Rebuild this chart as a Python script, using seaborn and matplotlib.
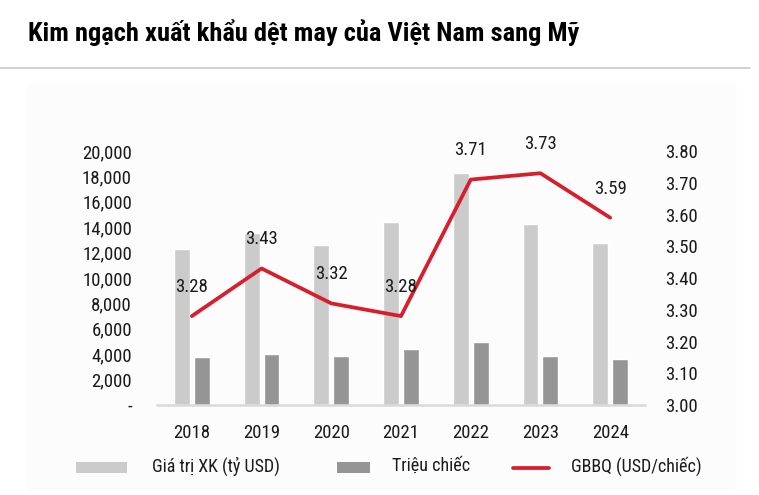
import numpy as np
import pandas as pd
import matplotlib
matplotlib.use("Agg")
import matplotlib.pyplot as plt
from matplotlib.patches import Rectangle, FancyBboxPatch
from matplotlib.lines import Line2D
import seaborn as sns

# ---- data ----
years = ["2018", "2019", "2020", "2021", "2022", "2023", "2024"]
gia_tri_xk = [12280, 13570, 12600, 14400, 18290, 14230, 12730]
trieu_chiec = [3750, 3990, 3830, 4410, 4980, 3860, 3600]
gbbq = [3.28, 3.43, 3.32, 3.28, 3.71, 3.73, 3.59]
gbbq_labels = ["3.28", "3.43", "3.32", "3.28", "3.71", "3.73", "3.59"]
series_names = ["Giá trị XK (tỷ USD)", "Triệu chiếc", "GBBQ (USD/chiếc)"]
left_ticks = [0, 2000, 4000, 6000, 8000, 10000, 12000, 14000, 16000, 18000, 20000]
right_ticks = [3.00, 3.10, 3.20, 3.30, 3.40, 3.50, 3.60, 3.70, 3.80]
title = "Kim ngạch xuất khẩu dệt may của Việt Nam sang Mỹ"

LIGHT = "#cbcbcb"
DARK = "#959595"
RED = "#d81e2c"
TXT = "#1a1a1a"

sns.set_theme(style="white")
FAM = ["Roboto Condensed", "DejaVu Sans"]
plt.rcParams["font.family"] = FAM

W, H = 759, 495
fig = plt.figure(figsize=(W / 100, H / 100), dpi=100)
fig.patch.set_facecolor("white")

# faint panel behind chart
fig.patches.append(FancyBboxPatch((27 / W, 1 - 490 / H), (737 - 27) / W, (490 - 83) / H,
                                  boxstyle="round,pad=0,rounding_size=0.01",
                                  transform=fig.transFigure, facecolor="#fcfcfc",
                                  edgecolor="none", zorder=-10))
# title and separator
fig.text(28 / W, 1 - 33 / H, title, fontsize=19, fontweight="bold", color="black",
         ha="left", va="center", family=FAM)
fig.lines.append(Line2D([0, 750 / W], [1 - 68 / H, 1 - 68 / H], transform=fig.transFigure,
                        color="#c8c8c8", lw=1.2))

ax = fig.add_axes([157 / W, 1 - 405 / H, (645 - 157) / W, (405 - 151) / H])
ax.set_facecolor("none")

df = pd.DataFrame({
    "year": years * 2,
    "value": gia_tri_xk + trieu_chiec,
    "series": [series_names[0]] * len(years) + [series_names[1]] * len(years),
})
sns.barplot(data=df, x="year", y="value", hue="series", order=years,
            hue_order=series_names[:2], palette=[LIGHT, DARK],
            width=0.57, gap=0.2, saturation=1, ax=ax, legend=False)

ax.set_xlim(-0.5, len(years) - 0.5)
ax.set_ylim(0, 20000)
ax.set_yticks(left_ticks)
ax.set_yticklabels(["-"] + [f"{v:,}" for v in left_ticks[1:]])
ax.set_xlabel("")
ax.set_ylabel("")
for s in ["top", "right", "left"]:
    ax.spines[s].set_visible(False)
ax.spines["bottom"].set_color("#d9d9d9")
ax.spines["bottom"].set_linewidth(1.8)
ax.tick_params(axis="y", length=0, pad=18, labelsize=13.5, labelcolor=TXT)
ax.tick_params(axis="x", length=0, pad=14, labelsize=13.5, labelcolor=TXT)
ax.grid(False)

ax2 = ax.twinx()
sns.lineplot(x=np.arange(len(years)), y=gbbq, color=RED, linewidth=2.7, ax=ax2)
ax2.set_ylim(3.0, 3.8)
ax2.set_yticks(right_ticks)
ax2.set_yticklabels([f"{v:.2f}" for v in right_ticks])
for s in ["top", "right", "left", "bottom"]:
    ax2.spines[s].set_visible(False)
ax2.tick_params(axis="y", length=0, pad=14.4, labelsize=13.5, labelcolor=TXT)
ax2.grid(False)
for i, (v, lab) in enumerate(zip(gbbq, gbbq_labels)):
    ax2.annotate(lab, (i, v), xytext=(0, 21), textcoords="offset points",
                 ha="center", va="center", fontsize=13.5, color=TXT)

# legend (manual, in figure coordinates)
fs = 13
fig.patches.append(Rectangle((76 / W, 1 - 473 / H), 51 / W, 11 / H, transform=fig.transFigure,
                             facecolor=LIGHT, edgecolor="none"))
fig.text(152 / W, 1 - 466 / H, series_names[0], fontsize=fs, color=TXT, ha="left", va="center")
fig.patches.append(Rectangle((337 / W, 1 - 473 / H), 33 / W, 11 / H, transform=fig.transFigure,
                             facecolor=DARK, edgecolor="none"))
fig.text(392 / W, 1 - 466 / H, series_names[1], fontsize=fs, color=TXT, ha="left", va="center")
fig.lines.append(Line2D([513 / W, 549 / W], [1 - 468 / H, 1 - 468 / H], transform=fig.transFigure,
                        color=RED, lw=2.7))
fig.text(571 / W, 1 - 466 / H, series_names[2], fontsize=fs, color=TXT, ha="left", va="center")

fig.savefig("out.png", dpi=100)
